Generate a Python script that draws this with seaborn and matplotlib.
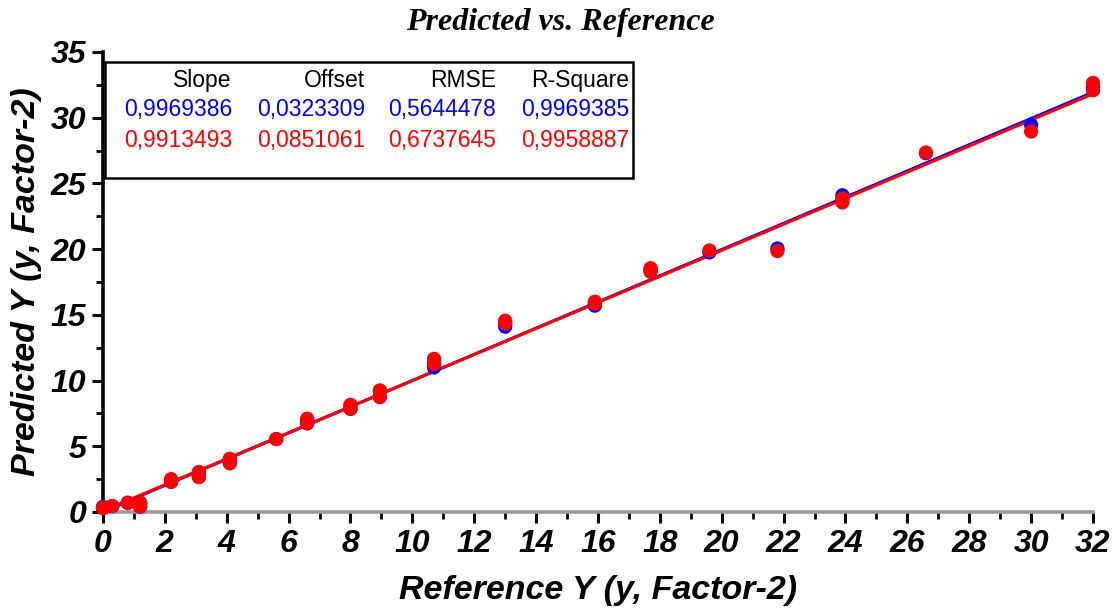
import numpy as np
import pandas as pd
import matplotlib
matplotlib.use("Agg")
import matplotlib.pyplot as plt
from matplotlib.patches import Rectangle
from matplotlib.ticker import MultipleLocator
import seaborn as sns

# Reference values (x) and predicted values for the two models
reference = [0.0, 0.0, 0.3, 0.8, 1.2, 1.2, 2.2, 2.2, 3.1, 3.1, 4.1, 4.1, 5.6,
             6.6, 6.6, 8.0, 8.0, 8.95, 8.95, 10.7, 10.7, 13.0, 13.0, 15.9, 15.9,
             17.7, 17.7, 19.6, 21.8, 23.9, 23.9, 26.6, 30.0, 32.0, 32.0]
pred_blue = [0.3, 0.4, 0.45, 0.7, 0.7, 0.4, 2.35, 2.3, 3.0, 2.7, 4.0, 3.75, 5.55,
             7.0, 6.75, 8.1, 7.85, 9.2, 8.75, 11.3, 11.0, 14.3, 14.1, 15.9, 15.7,
             18.5, 18.3, 19.75, 20.05, 24.1, 23.8, 27.3, 29.45, 32.3, 32.1]
pred_red = [0.3, 0.35, 0.45, 0.7, 0.7, 0.4, 2.5, 2.3, 3.05, 2.65, 4.05, 3.7, 5.55,
            7.1, 6.75, 8.15, 7.85, 9.25, 8.75, 11.65, 11.25, 14.55, 14.35, 16.0, 15.85,
            18.55, 18.3, 19.9, 19.85, 23.85, 23.55, 27.35, 28.95, 32.65, 32.1]

# Fit statistics for each model
stat_names = ["Slope", "Offset", "RMSE", "R-Square"]
stats_blue = ["0,9969386", "0,0323309", "0,5644478", "0,9969385"]
stats_red = ["0,9913493", "0,0851061", "0,6737645", "0,9958887"]
slope_blue, offset_blue = 0.9969386, 0.0323309
slope_red, offset_red = 0.9913493, 0.0851061

sns.set_theme(style="ticks")
plt.rcParams["font.family"] = ["Liberation Sans", "DejaVu Sans"]
plt.rcParams.update({
    "text.color": "black",
    "axes.labelcolor": "black",
    "xtick.color": "black",
    "ytick.color": "black",
})

fig = plt.figure(figsize=(11.17, 6.08), dpi=100)
ax = fig.add_axes([0.0922, 0.1579, 0.8863, 0.7566])

df = pd.DataFrame({
    "ref": reference * 2,
    "pred": pred_blue + pred_red,
    "model": ["blue"] * len(reference) + ["red"] * len(reference),
})

# Regression lines over the reference range
xs = np.array([0.0, 32.0])
sns.lineplot(x=xs, y=slope_blue * xs + offset_blue, color="#0000ff", lw=2.2, ax=ax)
sns.lineplot(x=xs, y=slope_red * xs + offset_red, color="#ff0000", lw=2.2, ax=ax)

sns.scatterplot(data=df, x="ref", y="pred", hue="model",
                palette={"blue": "#0000ff", "red": "#ff0000"},
                s=105, linewidth=0, legend=False, ax=ax, clip_on=False, zorder=3)

ax.set_xlim(0, 32)
ax.set_ylim(0, 35)
ax.xaxis.set_major_locator(MultipleLocator(2))
ax.xaxis.set_minor_locator(MultipleLocator(1))
ax.yaxis.set_major_locator(MultipleLocator(5))
ax.yaxis.set_minor_locator(MultipleLocator(2.5))

label_font = dict(family=["Liberation Sans", "DejaVu Sans"], weight="bold",
                  style="italic", size=24.5, color="black")
ax.tick_params(axis="both", which="major", length=8, width=2.2, color="black",
               direction="out", pad=4)
ax.tick_params(axis="both", which="minor", length=5, width=2.0, color="black",
               direction="out")
for lab in ax.get_xticklabels() + ax.get_yticklabels():
    lab.set_fontfamily(["Liberation Sans", "DejaVu Sans"])
    lab.set_fontweight("bold")
    lab.set_fontstyle("italic")
    lab.set_fontsize(23)
    lab.set_color("black")

sns.despine(ax=ax, top=True, right=True)
ax.spines["left"].set_linewidth(2.6)
ax.spines["left"].set_color("black")
ax.spines["bottom"].set_linewidth(2.6)
ax.spines["bottom"].set_color("#9a9a9a")

ax.set_xlabel("Reference Y (y, Factor-2)", fontdict=label_font, labelpad=12)
ax.set_ylabel("Predicted Y (y, Factor-2)", fontdict=label_font, labelpad=6)
fig.text(0.502, 0.963, "Predicted vs. Reference", ha="center", va="center",
         family=["Liberation Serif", "DejaVu Serif"], weight="bold",
         style="italic", size=23, color="black")

# Statistics table
ax.add_patch(Rectangle((0.002, 0.726), 0.533, 0.252, transform=ax.transAxes,
                       facecolor="white", edgecolor="black", lw=1.8, zorder=4,
                       clip_on=False))
col_right = [0.1303, 0.2646, 0.3970, 0.5313]
rows = [(0.939, stat_names, "black"), (0.874, stats_blue, "#0000ff"),
        (0.807, stats_red, "#ff0000")]
for y, texts, color in rows:
    for xr, t in zip(col_right, texts):
        ax.text(xr, y, t, transform=ax.transAxes, ha="right", va="center",
                color=color, size=16.5, zorder=5,
                family=["Liberation Sans", "DejaVu Sans"])

fig.savefig("out.png", dpi=100, facecolor="white")
